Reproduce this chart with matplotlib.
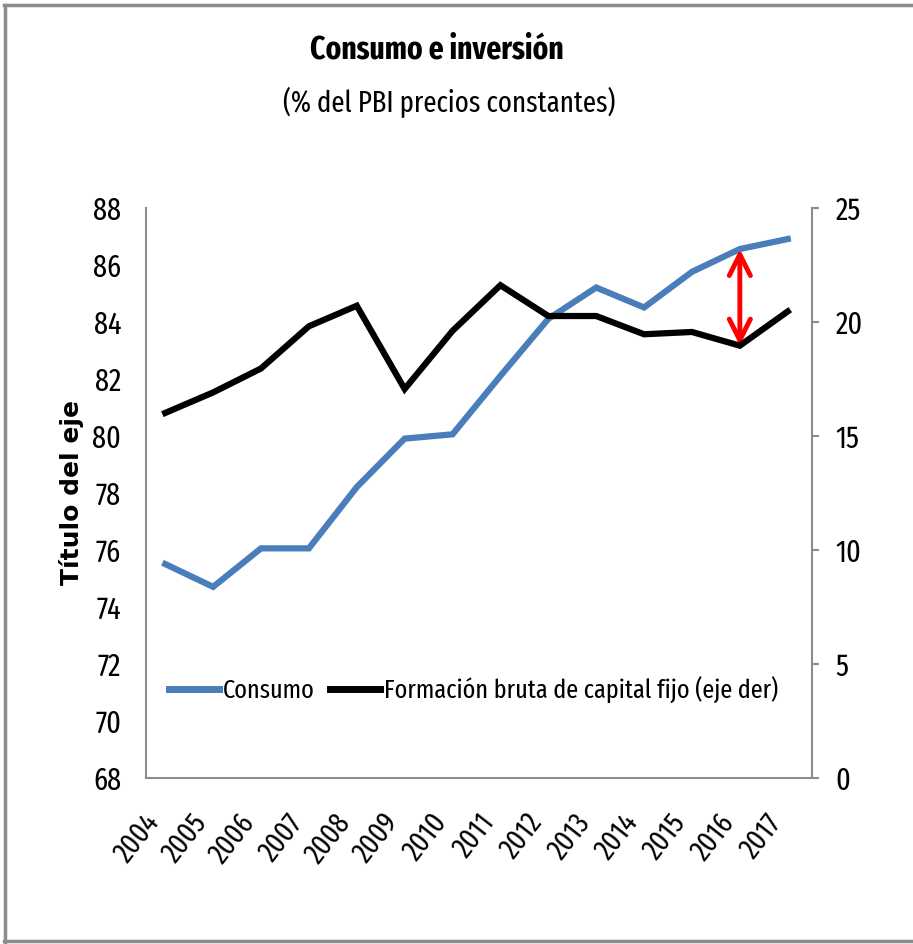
import matplotlib.pyplot as plt
from matplotlib.lines import Line2D

years = ['2004', '2005', '2006', '2007', '2008', '2009', '2010',
         '2011', '2012', '2013', '2014', '2015', '2016', '2017']
consumo = [75.5, 74.7, 76.05, 76.05, 78.2, 79.9, 80.05,
           82.1, 84.1, 85.2, 84.5, 85.75, 86.55, 86.9]
fbcf = [16.0, 16.9, 17.95, 19.8, 20.7, 17.05, 19.6,
        21.6, 20.25, 20.25, 19.45, 19.55, 18.95, 20.45]

left_ticks = [68, 70, 72, 74, 76, 78, 80, 82, 84, 86, 88]
right_ticks = [0, 5, 10, 15, 20, 25]

NARROW = ['Fira Sans Extra Condensed', 'DejaVu Sans']
GRAY = '#8c8c8c'
BLUE = '#4a7ebb'

fig = plt.figure(figsize=(9.13, 9.44), dpi=100)
ax = fig.add_axes([0.160, 0.176, 0.729, 0.604])
ax2 = ax.twinx()

x = list(range(len(years)))
ax.plot(x, consumo, color=BLUE, lw=4.5, solid_joinstyle='miter', zorder=3)
ax2.plot(x, fbcf, color='black', lw=4.5, solid_joinstyle='miter', zorder=3)

ax.set_xlim(-0.4, 13.5)
ax.set_ylim(68, 88)
ax2.set_ylim(0, 25)
ax.set_yticks(left_ticks)
ax2.set_yticks(right_ticks)
ax.set_xticks(x)
ax.set_xticklabels(years, rotation=52, ha='right', va='top', family=NARROW, fontsize=21)
for lab in ax.get_yticklabels() + ax2.get_yticklabels():
    lab.set_family(NARROW)
    lab.set_fontsize(22)

ax.tick_params(axis='y', length=0, pad=18)
ax.tick_params(axis='x', length=0, pad=22)
ax2.tick_params(axis='y', length=5, color=GRAY, width=1.5, pad=12)

for a in (ax, ax2):
    a.spines['top'].set_visible(False)
    for s in ('left', 'right', 'bottom'):
        a.spines[s].set_color(GRAY)
        a.spines[s].set_linewidth(1.5)
ax.spines['right'].set_visible(False)
ax2.spines['left'].set_visible(False)
ax2.spines['bottom'].set_visible(False)

ax.set_ylabel('Título del eje', fontsize=18, fontweight='bold', family='DejaVu Sans')
ax.yaxis.set_label_coords(-0.093, 0.5)

# red double arrow showing the gap in 2016
i = 12
fb_left = 68 + fbcf[i] * (88 - 68) / 25
ax.annotate('', xy=(x[i], consumo[i]), xytext=(x[i], fb_left),
            arrowprops=dict(arrowstyle='<->', color='red', lw=3.5,
                            mutation_scale=38, shrinkA=0, shrinkB=0), zorder=5)

handles = [Line2D([], [], color=BLUE, lw=5), Line2D([], [], color='black', lw=5)]
ax.legend(handles, ['Consumo', 'Formación bruta de capital fijo (eje der)'],
          loc='center', bbox_to_anchor=(0.492, 0.154), ncol=2, frameon=False,
          prop={'family': NARROW, 'size': 19}, handlelength=1.9,
          handletextpad=0.15, columnspacing=0.6)

fig.text(0.478, 0.947, 'Consumo e inversión', ha='center', va='center',
         family=NARROW, fontsize=23, fontweight='bold')
fig.text(0.492, 0.891, '(% del PBI precios constantes)', ha='center', va='center',
         family=NARROW, fontsize=21)

# outer chart frame
fig.add_artist(Line2D([0.004, 1.0], [0.995, 0.995], color=GRAY, lw=2.5, transform=fig.transFigure))
fig.add_artist(Line2D([0.005, 0.005], [0.002, 0.995], color=GRAY, lw=2.5, transform=fig.transFigure))
fig.add_artist(Line2D([0.004, 1.0], [0.003, 0.003], color=GRAY, lw=2.5, transform=fig.transFigure))

fig.savefig('out.png', dpi=100)
